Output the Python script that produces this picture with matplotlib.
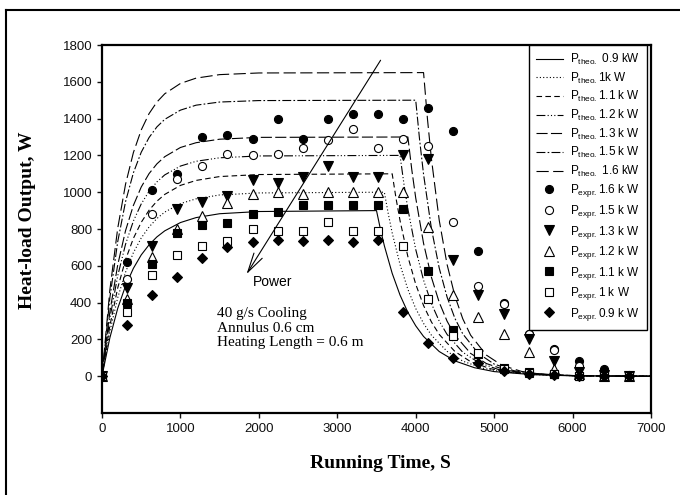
import numpy as np
import matplotlib
matplotlib.use("Agg")
from matplotlib import pyplot as plt
from matplotlib.lines import Line2D

plt.rcParams['font.family'] = ['Liberation Sans', 'DejaVu Sans']
plt.rcParams['mathtext.default'] = 'regular'

# theoretical curves: rise part (common times), plateau, then decay after cut-off
rise_t = [0, 100, 200, 300, 400, 500, 600, 700, 800, 1000, 1200, 1500, 2000]
decay_dt = [0, 50, 100, 200, 300, 400, 500, 600, 800, 1000, 1250, 1500, 2000, 2500]
t_end = 7000

theo_labels = [" 0.9 kW", "1k W", "1.1 k W", "1.2 k W", "1.3 k W", "1.5 k W", " 1.6 kW"]
theo_cutoff = [3500, 3600, 3700, 3800, 3900, 4000, 4100]
theo_rise = [
    [0, 208, 368, 491, 586, 659, 714, 757, 790, 835, 862, 883, 895],
    [0, 243, 426, 565, 671, 751, 811, 857, 892, 938, 964, 985, 996],
    [0, 273, 479, 633, 749, 836, 902, 951, 988, 1037, 1064, 1085, 1096],
    [0, 314, 545, 717, 843, 936, 1005, 1056, 1094, 1142, 1168, 1187, 1197],
    [0, 349, 604, 791, 928, 1028, 1101, 1154, 1193, 1243, 1269, 1288, 1298],
    [0, 425, 730, 948, 1105, 1217, 1297, 1355, 1396, 1446, 1473, 1490, 1498],
    [0, 468, 803, 1043, 1215, 1338, 1427, 1490, 1535, 1591, 1620, 1639, 1648],
]
theo_decay = [
    [900, 799, 709, 559, 441, 347, 274, 216, 134, 83, 46, 25, 8, 2],
    [1000, 883, 779, 607, 472, 368, 287, 223, 135, 82, 44, 24, 7, 2],
    [1100, 964, 846, 650, 500, 384, 295, 227, 134, 79, 41, 21, 6, 2],
    [1200, 1044, 909, 689, 522, 395, 299, 227, 130, 75, 37, 19, 5, 1],
    [1300, 1122, 969, 722, 538, 401, 299, 223, 124, 69, 33, 16, 4, 1],
    [1500, 1283, 1097, 803, 587, 430, 314, 230, 123, 66, 30, 14, 3, 1],
    [1650, 1397, 1182, 847, 607, 435, 312, 223, 115, 59, 26, 11, 2, 0],
]

# experimental points
t_exp = [0, 320, 640, 960, 1280, 1600, 1920, 2240, 2560, 2880, 3200,
         3520, 3840, 4160, 4480, 4800, 5120, 5440, 5760, 6080, 6400, 6720]
expr_labels = ["1.6 k W", "1.5 k W", "1.3 k W", "1.2 k W", "1.1 k W", "1 k W", "0.9 k W"]
expr_vals = [
    [0, 620, 1010, 1100, 1300, 1310, 1290, 1400, 1290, 1400, 1425, 1425, 1400, 1460, 1330, 680, 400, 230, 150, 80, 40, 5],
    [0, 530, 880, 1070, 1140, 1210, 1200, 1210, 1240, 1285, 1345, 1240, 1290, 1250, 840, 490, 390, 230, 140, 55, 10, 0],
    [0, 480, 710, 910, 945, 980, 1065, 1050, 1080, 1140, 1080, 1080, 1200, 1180, 630, 440, 340, 200, 85, 25, 5, 0],
    [0, 420, 650, 800, 870, 940, 990, 1000, 990, 1000, 1000, 1000, 1000, 810, 440, 320, 230, 130, 40, 10, 0, 0],
    [0, 400, 610, 780, 820, 830, 880, 890, 930, 930, 930, 930, 910, 570, 250, 120, 45, 25, 10, 0, 0, 0],
    [0, 350, 550, 660, 705, 735, 800, 790, 790, 840, 790, 790, 710, 420, 220, 125, 40, 20, 10, 0, 0, 0],
    [0, 280, 440, 540, 640, 700, 730, 740, 735, 740, 730, 740, 350, 180, 100, 70, 30, 10, 5, 0, 0, 0],
]

theo_styles = [
    dict(linestyle='-'),
    dict(linestyle=(0, (1, 2))),
    dict(linestyle=(0, (5, 3))),
    dict(linestyle=(0, (8, 2, 1, 2, 1, 2, 1, 2))),
    dict(linestyle=(0, (10, 3))),
    dict(linestyle=(0, (8, 2, 1.5, 2))),
    dict(linestyle=(0, (11, 4))),
]
expr_styles = [
    dict(marker='o', mfc='black', ms=5.8),
    dict(marker='o', mfc='white', ms=5.8),
    dict(marker='v', mfc='black', ms=6.5),
    dict(marker='^', mfc='white', ms=6.5),
    dict(marker='s', mfc='black', ms=5.5),
    dict(marker='s', mfc='white', ms=5.5),
    dict(marker='D', mfc='black', ms=5.5),
]

fig = plt.figure(figsize=(6.8, 4.95), dpi=100)
ax = fig.add_axes([102 / 680, 1 - 413 / 495, 549 / 680, 368 / 495])

for lab, tc, r, d, st in zip(theo_labels, theo_cutoff, theo_rise, theo_decay, theo_styles):
    t = rise_t + [tc + x for x in decay_dt] + [t_end]
    y = r + d + [0]
    ax.plot(t, y, color='black', lw=0.8, label=r"P$_{theo.}$" + lab, **st)

for lab, v, st in zip(expr_labels, expr_vals, expr_styles):
    ax.plot(t_exp, v, linestyle='none', color='black', mec='black', mew=0.8,
            label=r"P$_{expr.}$" + lab, **st)

ax.set_xlim(0, 7000)
ax.set_ylim(-200, 1800)
ax.set_xticks(np.arange(0, 7001, 1000))
ax.set_yticks(np.arange(0, 1801, 200))
ax.tick_params(direction='out', length=3.5, width=1, labelsize=9.5, colors='#111111')
for s in ax.spines.values():
    s.set_linewidth(1.6)

ax.annotate('', xy=(1824, 542), xytext=(3571, 1730),
            arrowprops=dict(arrowstyle='->,head_length=1.4,head_width=0.35', lw=0.8, color='black'))
ax.text(2181, 510, "Power", fontsize=10, ha='center', va='center')
ax.text(1467, 374, "40 g/s Cooling\nAnnulus 0.6 cm\nHeating Length = 0.6 m",
        family='Liberation Serif', fontsize=11, ha='left', va='top', linespacing=1.15)

fig.text(28 / 680, 1 - 220 / 495, "Heat-load Output, W", family='Liberation Serif',
         fontweight='bold', fontsize=14, rotation=90, ha='center', va='center')
fig.text(380 / 680, 1 - 463 / 495, "Running Time, S", family='Liberation Serif',
         fontweight='bold', fontsize=14, ha='center', va='center')

leg = ax.legend(loc='upper right', bbox_to_anchor=(653 / 680, 1 - 39 / 495),
                bbox_transform=fig.transFigure, fontsize=8.5, frameon=True,
                fancybox=False, edgecolor='black', framealpha=1, numpoints=1,
                handlelength=2.3, handletextpad=0.6, labelspacing=0.3, borderpad=0.6)
leg.get_frame().set_linewidth(1.0)

# outer chart-area frame
fig.add_artist(Line2D([6 / 680, 1], [1 - 10 / 495] * 2, transform=fig.transFigure, color='black', lw=1.5))
fig.add_artist(Line2D([6 / 680] * 2, [0, 1 - 10 / 495], transform=fig.transFigure, color='black', lw=1.5))

fig.savefig("out.png", dpi=100)
